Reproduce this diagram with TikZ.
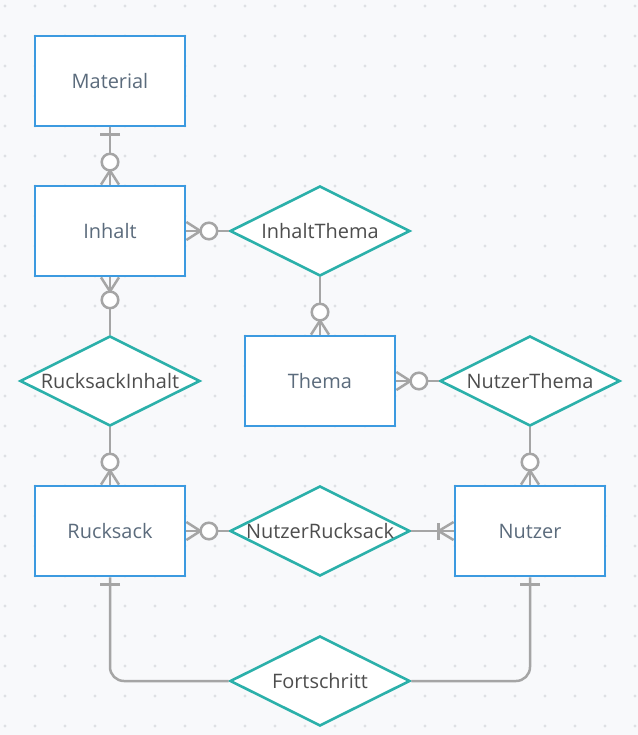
\documentclass[tikz,border=0pt]{standalone}
\usepackage{fontspec}
\setmainfont{Open Sans}
\usetikzlibrary{shapes.geometric}
\definecolor{bg}{HTML}{F8F9FB}
\definecolor{dotc}{HTML}{DEE0E4}
\definecolor{boxblue}{HTML}{3C9AE0}
\definecolor{relteal}{HTML}{2BB0AA}
\definecolor{boxtext}{HTML}{5B6B7C}
\definecolor{reltext}{HTML}{4D4D4D}
\definecolor{conngray}{HTML}{A5A5A5}
\tikzset{
  x=1bp, y=1bp,
  box/.style={draw=boxblue, line width=2.8bp, fill=white, minimum width=150bp, minimum height=90bp, inner sep=0pt, text=boxtext, font=\fontsize{20}{24}\selectfont},
  rel/.style={diamond, draw=relteal, line width=2.6bp, fill=white, minimum width=180bp, minimum height=90bp, inner sep=0pt, text=reltext, font=\fontsize{20}{24}\selectfont},
  conn/.style={draw=conngray, line width=2.5bp},
  zmany/.pic={\draw[conn] (0,9)--(14,0)--(0,-9); \draw[conn, fill=white] (22.5,0) circle (8.3bp);},
  omany/.pic={\draw[conn] (0,9)--(15,0)--(0,-9); \draw[conn] (15,8.5)--(15,-8.5);},
  onebar/.pic={\draw[conn] (7,10)--(7,-10);},
}
\begin{document}
\begin{tikzpicture}
\useasboundingbox (0,0) rectangle (638,-735);
\fill[bg] (0,0) rectangle (638,-735);
\foreach \i in {0,...,21}{\foreach \j in {0,...,24}{\fill[dotc] (5+30*\i,-6-30*\j) circle (1.6bp);}}
% entities
\node[box] (mat) at (110,-81) {Material};
\node[box] (inh) at (110,-231) {Inhalt};
\node[box] (the) at (320,-381) {Thema};
\node[box] (ruc) at (110,-531) {Rucksack};
\node[box] (nut) at (530,-531) {Nutzer};
% relationships
\node[rel] (ith) at (320,-231) {\makebox[0pt]{InhaltThema}};
\node[rel] (rin) at (110,-381) {\makebox[0pt]{RucksackInhalt}};
\node[rel] (nth) at (530,-381) {\makebox[0pt]{NutzerThema}};
\node[rel] (nru) at (320,-531) {\makebox[0pt]{NutzerRucksack}};
\node[rel] (fort) at (320,-681) {\makebox[0pt]{Fortschritt}};
% connectors
\draw[conn] (mat.south) -- (inh.north);
\draw[conn] (inh.east) -- (ith.west);
\draw[conn] (ith.south) -- (the.north);
\draw[conn] (inh.south) -- (rin.north);
\draw[conn] (rin.south) -- (ruc.north);
\draw[conn] (the.east) -- (nth.west);
\draw[conn] (nth.south) -- (nut.north);
\draw[conn] (ruc.east) -- (nru.west);
\draw[conn] (nru.east) -- (nut.west);
\draw[conn, rounded corners=14bp] (ruc.south) |- (fort.west);
\draw[conn, rounded corners=14bp] (nut.south) |- (fort.east);
% markers
\pic[rotate=-90] at (mat.south) {onebar};
\pic[rotate=90] at (inh.north) {zmany};
\pic at (inh.east) {zmany};
\pic[rotate=90] at (the.north) {zmany};
\pic[rotate=-90] at (inh.south) {zmany};
\pic[rotate=90] at (ruc.north) {zmany};
\pic at (the.east) {zmany};
\pic[rotate=90] at (nut.north) {zmany};
\pic at (ruc.east) {zmany};
\pic[rotate=180] at (nut.west) {omany};
\pic[rotate=-90] at (ruc.south) {onebar};
\pic[rotate=-90] at (nut.south) {onebar};
\end{tikzpicture}
\end{document}
